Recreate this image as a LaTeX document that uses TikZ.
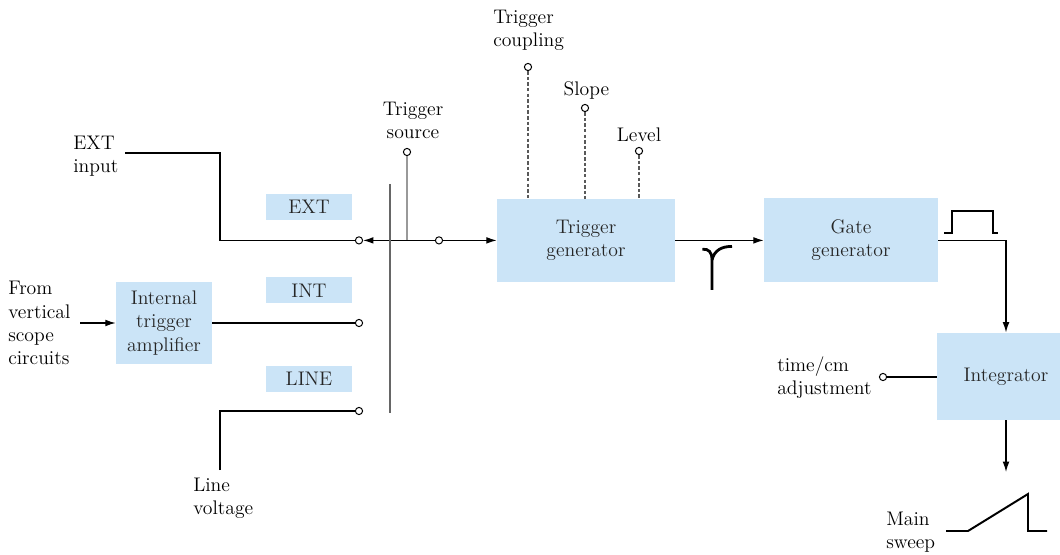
\documentclass[tikz,border=0pt]{standalone}
\usetikzlibrary{arrows.meta, positioning, calc}
\definecolor{boxblue}{RGB}{203,228,247}

\begin{document}
\begin{tikzpicture}[
  font=\fontsize{14}{16.5}\selectfont,
  box/.style={fill=boxblue, align=center, text=black!85, inner sep=2pt},
  tag/.style={fill=boxblue, minimum width=21.5mm, minimum height=6.5mm,
              inner sep=0pt, text=black!85},
  term/.style={circle, draw, fill=white, inner sep=0pt, minimum size=1.8mm,
               line width=0.7pt},
  lbl/.style={align=left, inner sep=0pt, anchor=west},
  ln/.style={line width=0.9pt},
  ar/.style={ln, -{Latex[length=2.6mm,width=1.7mm]}},
  ctl/.style={line width=1pt, black!65, dash pattern=on 2.5pt off 1.5pt},
  wave/.style={line width=1.4pt}
]
\useasboundingbox (0,0) rectangle (26.5,13.85);
% blocks
\node[box, minimum width=44.5mm, minimum height=20.8mm] (trg) at (14.65,7.84) {Trigger\\generator};
\node[box, minimum width=43.5mm, minimum height=21mm]   (gate) at (21.275,7.84) {Gate\\generator};
\node[box, minimum width=34.5mm, minimum height=21.8mm] (intg) at (25.15,4.44) {Integrator};
\node[box, minimum width=24mm, minimum height=20.5mm]   (amp) at (4.1,5.775) {Internal\\trigger\\amplifier};
\node[tag] (text) at (7.725,8.675)  {EXT};
\node[tag] (tint) at (7.725,6.5875) {INT};
\node[tag] (tlin) at (7.725,4.3875) {LINE};
% terminals
\node[term] (cext) at (8.975,7.84)  {};
\node[term] (cint) at (8.975,5.775) {};
\node[term] (clin) at (8.975,3.575) {};
\node[term] (ctap) at (10.975,7.84) {};
\node[term] (csrc) at (10.175,10.05) {};
\node[term] (ccpl) at (13.2,12.175) {};
\node[term] (cslp) at (14.625,11.15) {};
\node[term] (clev) at (15.975,10.075) {};
\node[term] (ctim) at (22.075,4.425) {};
% labels
\node[lbl] (lext) at (1.825,9.95) {EXT\\input};
\node[lbl] (lvrt) at (0.2,5.775) {From\\vertical\\scope\\circuits};
\node[lbl] (llin) at (4.825,1.4) {Line\\voltage};
\node[align=center] (lsrc) at (10.325,10.84) {Trigger\\source};
\node[lbl] (lcpl) at (12.325,13.09) {Trigger\\coupling};
\node (lslp) at (14.66,11.6) {Slope};
\node (llev) at (15.975,10.475) {Level};
\node[lbl] (ltim) at (19.425,4.41) {time/cm\\adjustment};
\node[lbl] (lswp) at (22.15,0.55) {Main\\sweep};
% free ends
\coordinate (pext) at (3.125,10.025);
\coordinate (pvrt) at (2.0,5.775);
\coordinate (plin) at (5.5,2.1);
\coordinate (jsrc) at (10.175,7.84);
\coordinate (pout) at (25.15,2.05);
\coordinate (bar1) at (9.75,9.25);
\coordinate (bar2) at (9.75,3.525);
% wiring
\draw[ln] (pext) -| (5.5,7.84) -- (cext);
\draw[ar] (pvrt) -- (amp);
\draw[ln] (amp.east |- cint) -- (cint);
\draw[ln] (plin) |- (clin);
\draw[ar] (ctap) -- (cext);
\draw[ar] (ctap) -- (trg.west |- ctap);
\draw[line width=1.3pt, black!40] (csrc) -- (jsrc);
\draw[line width=2.1pt, black!60] (bar1) -- (bar2);
\draw[ctl] (ccpl) -- (ccpl |- trg.north);
\draw[ctl] (cslp) -- (cslp |- trg.north);
\draw[ctl] (clev) -- (clev |- trg.north);
\draw[ar] (trg) -- (gate);
\draw[ar] (gate.east) -| (intg.north);
\draw[ln] (ctim) -- (intg.west |- ctim);
\draw[ar] (intg) -- (pout);
% waveforms
\draw[line width=2pt] (17.56,7.62) .. controls (17.72,7.63) and (17.8,7.55) .. (17.8,7.35) -- (17.8,6.6);
\draw[line width=2pt] (17.8,7.35) .. controls (17.86,7.6) and (18.05,7.69) .. (18.3,7.69);
\draw[wave] (23.6,8.025) -- (23.8,8.025) -- (23.8,8.575) -- (24.825,8.575) -- (24.825,8.025) -- (24.95,8.025);
\draw[wave] (23.65,0.575) -- (24.2,0.575) -- (25.7,1.5) -- (25.7,0.575) -- (26.175,0.575);
\end{tikzpicture}
\end{document}
